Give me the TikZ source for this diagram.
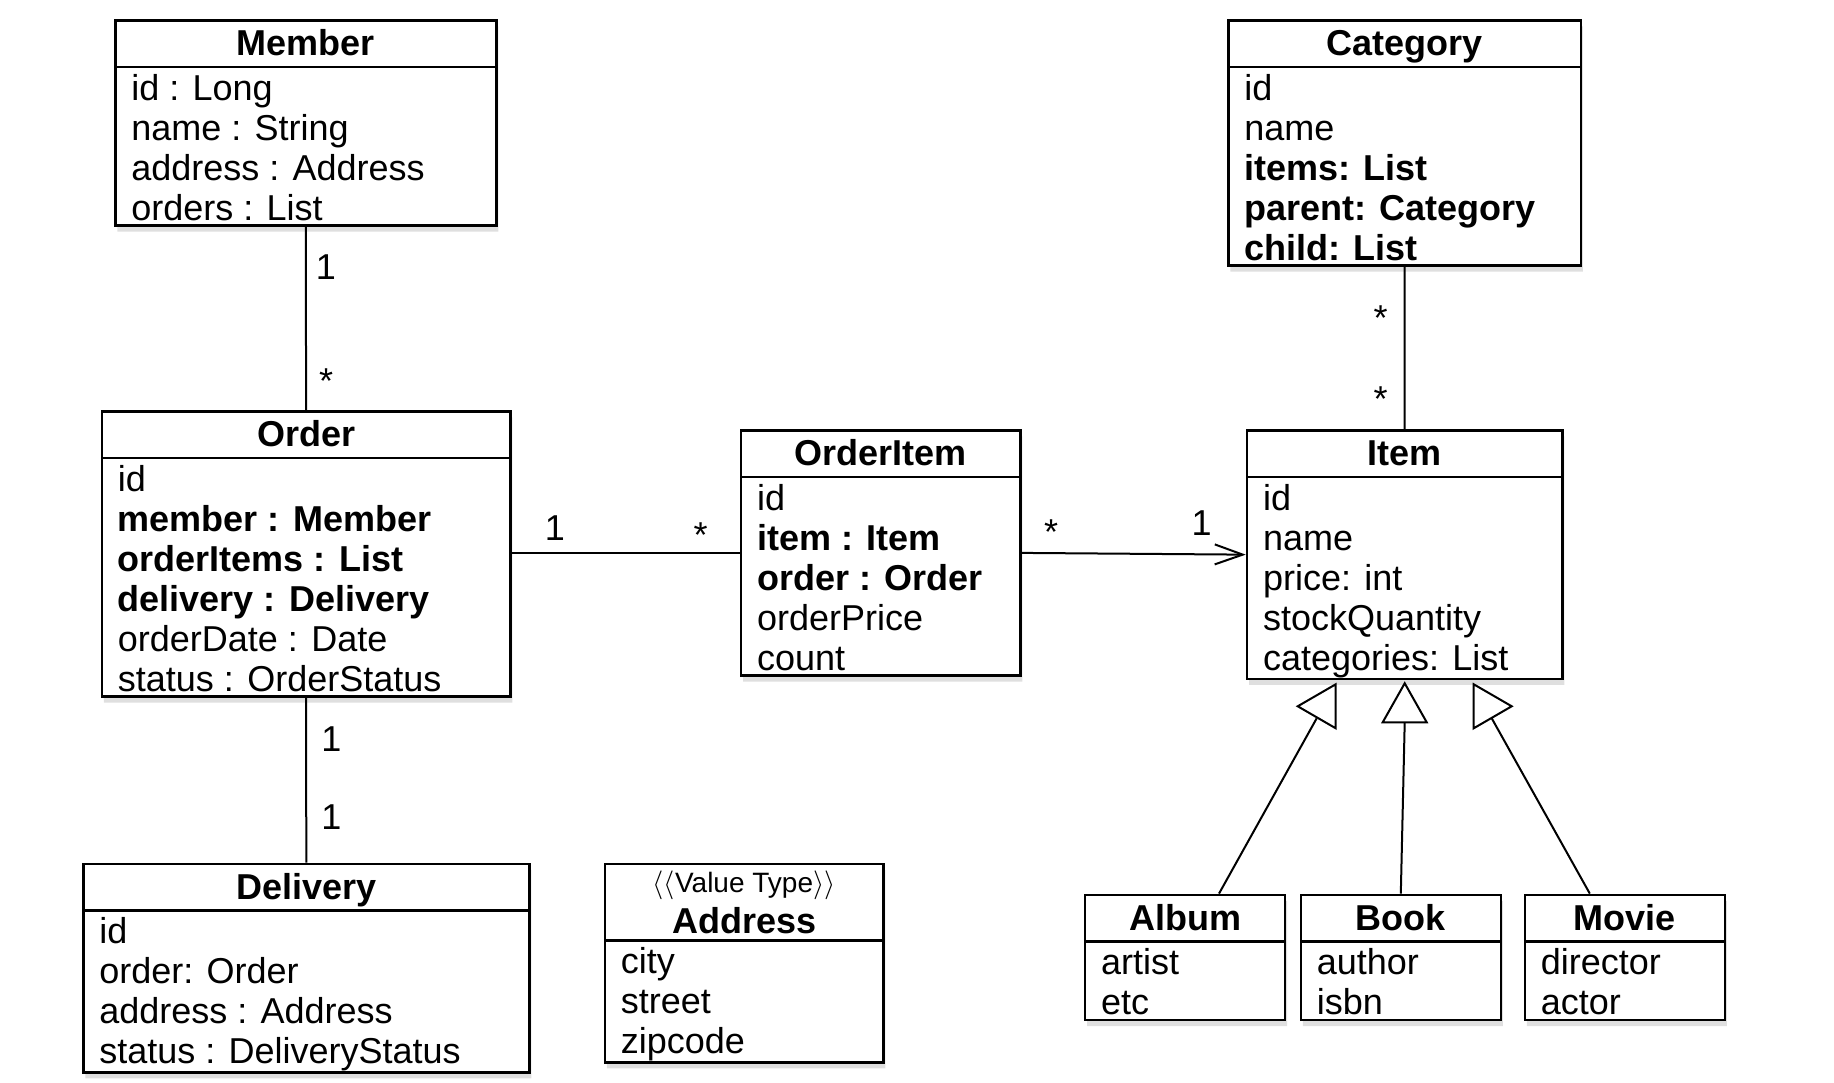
\documentclass[tikz,border=0pt]{standalone}
\usepackage{fontspec}
\setmainfont{Liberation Sans}
\usepackage{xcolor}
\usetikzlibrary{shapes.multipart,shadows,arrows.meta}

\newcommand{\headstrut}{\rule[-5pt]{0pt}{22pt}}
\newcommand{\rowstrut}{\rule[-2pt]{0pt}{18pt}}
\newcommand{\valuetype}[1]{\renewcommand{\arraystretch}{0}\begin{tabular}{@{}c@{}}\rule[-7pt]{0pt}{20.5pt}{\fontsize{14}{16}\selectfont$\langle\langle$Value Type$\rangle\rangle$}\\\rule[-2.7pt]{0pt}{16.5pt}\textbf{#1}\end{tabular}}

\tikzset{
classbox/.style={draw, line width=1.3pt, fill=white, rectangle split, rectangle split parts=2,
  rectangle split part align={center,left}, align=left, anchor=north west,
  inner xsep=8pt, inner ysep=0pt, font=\fontsize{18}{20}\selectfont,
  drop shadow={opacity=0.25, shadow xshift=1pt, shadow yshift=-3pt}},
mult/.style={font=\fontsize{18}{20}\selectfont, inner sep=0pt},
assoc/.style={line width=1pt},
gentip/.style={line width=1pt, fill=white, line join=miter},
}

\begin{document}
\begin{tikzpicture}[x=0.5pt, y=-0.5pt]
\useasboundingbox (0,0) rectangle (1834,1082);
\node[classbox, minimum width=190.5pt] (member) at (114,19) {\headstrut\textbf{Member}
\nodepart{second}\rowstrut id : Long\\\rowstrut name : String\\\rowstrut address : Address\\\rowstrut orders : List};
\node[classbox, minimum width=204.2pt] (order) at (100.6,410) {\headstrut\textbf{Order}
\nodepart{second}\rowstrut id\\\rowstrut\textbf{member : Member}\\\rowstrut\textbf{orderItems : List}\\\rowstrut\textbf{delivery : Delivery}\\\rowstrut orderDate : Date\\\rowstrut status : OrderStatus};
\node[classbox, minimum width=139.6pt] (orderitem) at (739.8,429) {\headstrut\textbf{OrderItem}
\nodepart{second}\rowstrut id\\\rowstrut\textbf{item : Item}\\\rowstrut\textbf{order : Order}\\\rowstrut orderPrice\\\rowstrut count};
\node[classbox, minimum width=157.7pt] (item) at (1245.7,429) {\headstrut\textbf{Item}
\nodepart{second}\rowstrut id\\\rowstrut name\\\rowstrut price: int\\\rowstrut stockQuantity\\\rowstrut categories: List};
\node[classbox, minimum width=176.3pt] (category) at (1227,19) {\headstrut\textbf{Category}
\nodepart{second}\rowstrut id\\\rowstrut name\\\rowstrut\textbf{items: List}\\\rowstrut\textbf{parent: Category}\\\rowstrut\textbf{child: List}};
\node[classbox, minimum width=223pt] (delivery) at (82,862.5) {\headstrut\textbf{Delivery}
\nodepart{second}\rowstrut id\\\rowstrut order: Order\\\rowstrut address : Address\\\rowstrut status : DeliveryStatus};
\node[classbox, minimum width=139.3pt] (address) at (603.5,862.5) {\valuetype{Address}
\nodepart{second}\rowstrut city\\\rowstrut street\\\rowstrut zipcode};
\node[classbox, minimum width=100pt] (album) at (1083.7,893.6) {\headstrut\textbf{Album}
\nodepart{second}\rowstrut artist\\\rowstrut etc};
\node[classbox, minimum width=100pt] (book) at (1299.5,893.6) {\headstrut\textbf{Book}
\nodepart{second}\rowstrut author\\\rowstrut isbn};
\node[classbox, minimum width=100pt] (movie) at (1523.5,893.6) {\headstrut\textbf{Movie}
\nodepart{second}\rowstrut director\\\rowstrut actor};

\draw[assoc] (member.south) -- (order.north);
\draw[assoc] (order.east |- orderitem.west) -- (orderitem.west);
\draw[assoc, -{Straight Barb[length=14pt, width=10pt]}] (orderitem.east) -- (item.west);
\draw[assoc] (category.south) -- (item.north);
\draw[assoc] (order.south) -- (delivery.north);
\node[mult] (memberone) at (326,267) {1};
\node[mult] (membermany) at (326,381) {*};
\node[mult] (orderone) at (555,528) {1};
\node[mult] (ordermany) at (700.5,535) {*};
\node[mult] (lineitemmany) at (1051,532) {*};
\node[mult] (lineitemone) at (1201.7,523.3) {1};
\node[mult] (categorymany) at (1380.5,318) {*};
\node[mult] (itemmany) at (1380.5,399) {*};
\node[mult] (deliveryone) at (331.5,739.5) {1};
\node[mult] (deliverytwo) at (331.5,817) {1};

\draw[assoc] ([xshift=17pt]album.north) -- ([shift={(-88,38)}]item.south);
\draw[assoc] (book.north) -- ([shift={(0,42)}]item.south);
\draw[assoc] ([xshift=-17.5pt]movie.north) -- ([shift={(87,38)}]item.south);
\draw[gentip] ([shift={(-69,4)}]item.south) -- ++(-38,22) -- ++(38,22) -- cycle;
\draw[gentip] ([shift={(0,3)}]item.south) -- ++(-22,39) -- ++(44,0) -- cycle;
\draw[gentip] ([shift={(69,4)}]item.south) -- ++(38,22) -- ++(-38,22) -- cycle;
\end{tikzpicture}
\end{document}
